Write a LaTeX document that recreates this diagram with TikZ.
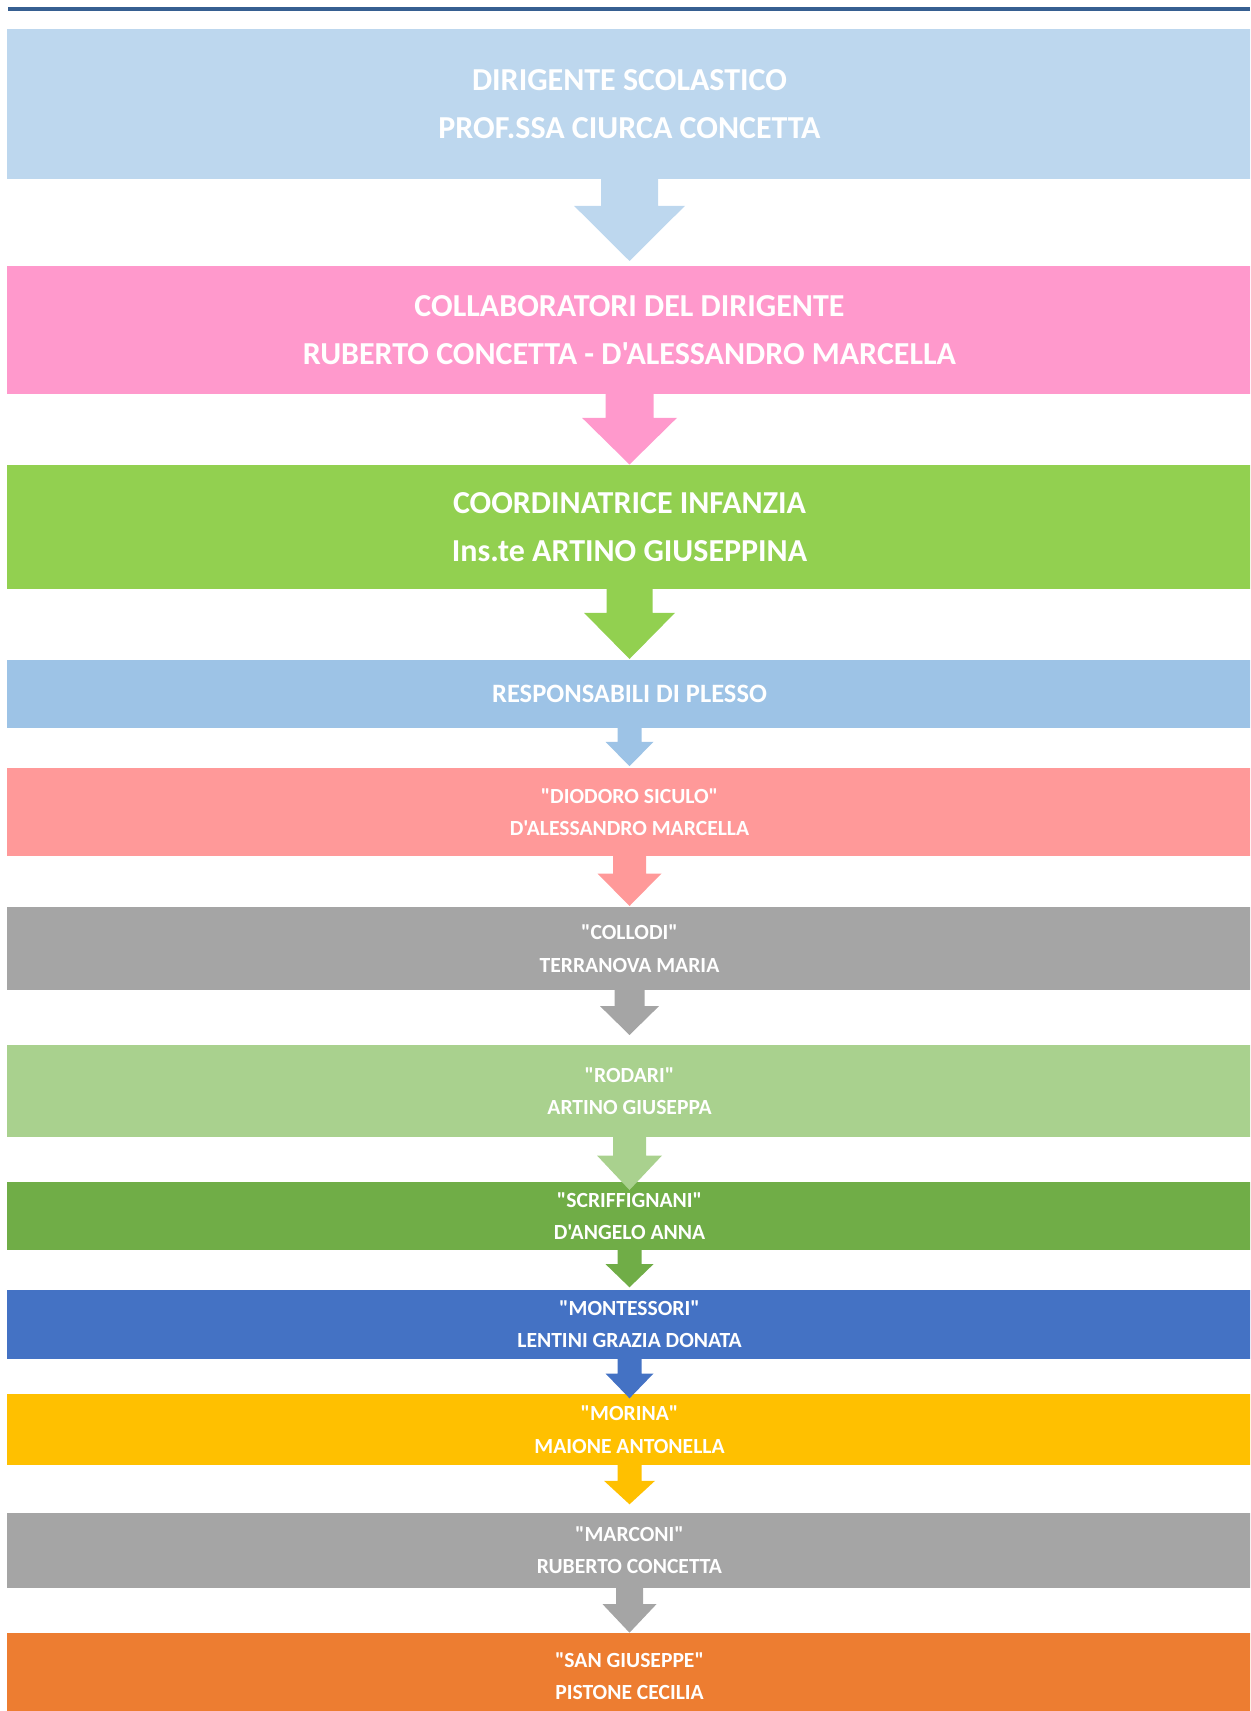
\documentclass[tikz,border=0pt]{standalone}
\usepackage{fontspec}
\setmainfont{Carlito}[Ligatures=TeXOff]
\usetikzlibrary{calc,positioning}
\definecolor{rulebar}{RGB}{54,95,145}
\definecolor{dirblue}{RGB}{189,215,238}
\definecolor{collpink}{RGB}{255,153,204}
\definecolor{coordgreen}{RGB}{146,208,80}
\definecolor{respblue}{RGB}{157,195,230}
\definecolor{diodred}{RGB}{255,153,153}
\definecolor{plessogray}{RGB}{165,165,165}
\definecolor{rodgreen}{RGB}{169,209,142}
\definecolor{scrgreen}{RGB}{112,173,71}
\definecolor{montblue}{RGB}{68,114,196}
\definecolor{morgold}{RGB}{255,192,0}
\definecolor{sgorange}{RGB}{237,125,49}
% block arrow: from, to, colour, shaft half width, shaft length, head half width, tip offset
\newcommand{\flowarrow}[7]{%
  \fill[#3] ($(#1.south)+(-#4,-1)$) -- ($(#1.south)+(-#4,#5)$) -- ($(#1.south)+(-#6,#5)$)
    -- ($(#2.north)+(0,#7)$) -- ($(#1.south)+(#6,#5)$) -- ($(#1.south)+(#4,#5)$)
    -- ($(#1.south)+(#4,-1)$) -- cycle;}

\begin{document}
\begin{tikzpicture}[x=0.5pt,y=-0.5pt,
  plesso/.style={fill=#1,anchor=north,minimum width=622.5pt,inner sep=0pt,text=white,align=center},
  bigtxt/.style={font=\bfseries\fontsize{16}{24.25}\selectfont},
  midtxt/.style={font=\bfseries\fontsize{13.25}{16}\selectfont},
  smalltxt/.style={font=\bfseries\fontsize{10.8}{16.25}\selectfont}]
\useasboundingbox (0,0) rectangle (1250,1711);
\clip (0,0) rectangle (1250,1711);
% top rule
\fill[rulebar] (8,6.7) rectangle (1250,10.7);
% direzione
\node[plesso=dirblue,bigtxt,minimum height=75.25pt] (ds) at (629.5,28.5) {DIRIGENTE SCOLASTICO\\PROF.SSA CIURCA CONCETTA};
\node[plesso=collpink,bigtxt,minimum height=63.75pt] (coll) at (629.5,266) {COLLABORATORI DEL DIRIGENTE\\RUBERTO CONCETTA - D'ALESSANDRO MARCELLA};
\node[plesso=coordgreen,bigtxt,minimum height=62pt] (coord) at (629.5,464.5) {COORDINATRICE INFANZIA\\Ins.te ARTINO GIUSEPPINA};
\node[plesso=respblue,midtxt,minimum height=33.85pt] (resp) at (629.5,660) {RESPONSABILI DI PLESSO};
% plessi
\node[plesso=diodred,smalltxt,minimum height=44.15pt] (diod) at (629.5,767.7) {"DIODORO SICULO"\\D'ALESSANDRO MARCELLA};
\node[plesso=plessogray,smalltxt,minimum height=41.15pt] (coll2) at (629.5,907) {"COLLODI"\\TERRANOVA MARIA};
\node[plesso=rodgreen,smalltxt,minimum height=45.85pt] (rod) at (629.5,1045) {"RODARI"\\ARTINO GIUSEPPA};
\node[plesso=scrgreen,smalltxt,minimum height=33.65pt] (scr) at (629.5,1182) {"SCRIFFIGNANI"\\D'ANGELO ANNA};
\node[plesso=montblue,smalltxt,minimum height=34.5pt] (mont) at (629.5,1289.3) {"MONTESSORI"\\LENTINI GRAZIA DONATA};
\node[plesso=morgold,smalltxt,minimum height=35.85pt] (mor) at (629.5,1393.3) {"MORINA"\\MAIONE ANTONELLA};
\node[plesso=plessogray,smalltxt,minimum height=37.7pt] (marc) at (629.5,1512.3) {"MARCONI"\\RUBERTO CONCETTA};
\node[plesso=sgorange,smalltxt,minimum height=43.15pt] (sgius) at (629.5,1632.7) {"SAN GIUSEPPE"\\PISTONE CECILIA};
% frecce
\flowarrow{ds}{coll}{dirblue}{28.5}{26}{55.5}{-5}
\flowarrow{coll}{coord}{collpink}{24}{23.5}{47.5}{0}
\flowarrow{coord}{resp}{coordgreen}{23}{23.5}{45.5}{-1}
\flowarrow{resp}{diod}{respblue}{12}{13.3}{24}{-1.5}
\flowarrow{diod}{coll2}{diodred}{16.5}{16.7}{32}{-1}
\flowarrow{coll2}{rod}{plessogray}{15}{16}{29.5}{-10}
\flowarrow{rod}{scr}{rodgreen}{16.5}{18}{32.5}{8}
\flowarrow{scr}{mont}{scrgreen}{12}{14}{24}{-2}
\flowarrow{mont}{mor}{montblue}{12}{14.4}{24}{5}
\flowarrow{mor}{marc}{morgold}{12}{15}{25.5}{-8}
\flowarrow{marc}{sgius}{plessogray}{13.5}{15.6}{27}{0}
\end{tikzpicture}
\end{document}
